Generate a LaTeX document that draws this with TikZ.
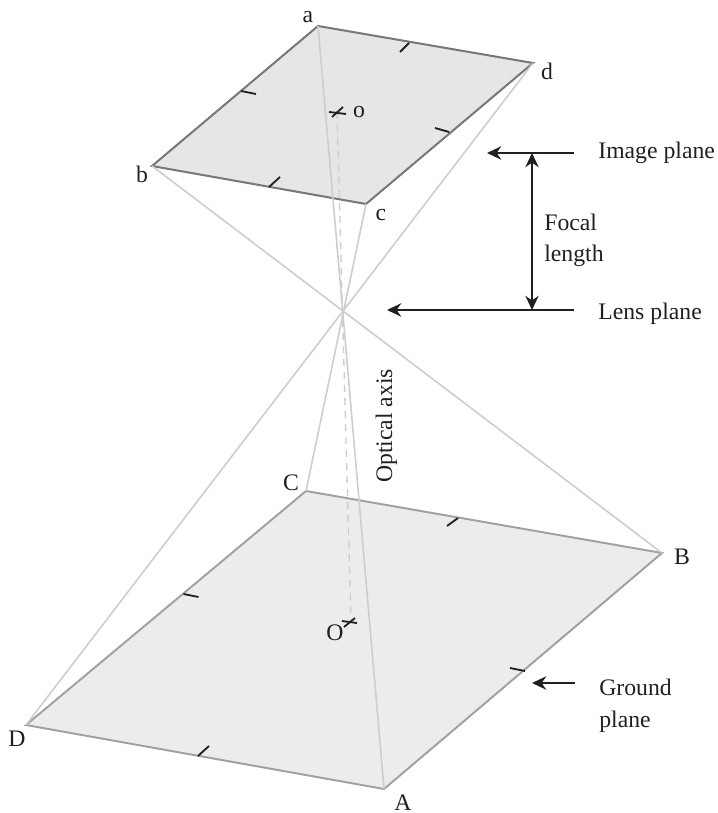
\documentclass[tikz,border=0pt]{standalone}
\usepackage{fontspec}
\setmainfont{Liberation Serif}
\usetikzlibrary{arrows.meta, positioning, calc}
\definecolor{imagefill}{RGB}{229,230,232}
\definecolor{imageedge}{RGB}{120,120,122}
\definecolor{groundfill}{RGB}{236,236,236}
\definecolor{groundedge}{RGB}{160,160,160}
\definecolor{raygray}{RGB}{205,205,205}
\definecolor{inkblack}{RGB}{35,31,32}
\tikzset{
  lbl/.style={anchor=base, inner sep=0pt, text=inkblack, font=\fontsize{13.5}{16}\selectfont},
  lblw/.style={lbl, anchor=base west},
  ray/.style={raygray, line width=0.9pt},
  axisline/.style={raygray, line width=0.75pt, dash pattern=on 4pt off 3.4pt},
  tickmark/.style={inkblack, line width=1.05pt},
  pointer/.style={inkblack, line width=1.5pt, -{Stealth[length=8pt,width=7.5pt,inset=2.5pt]}},
  dimline/.style={inkblack, line width=1.5pt, {Stealth[length=8pt,width=7.5pt,inset=2.5pt]}-{Stealth[length=8pt,width=7.5pt,inset=2.5pt]}}
}
\begin{document}
\begin{tikzpicture}[x=0.02cm, y=-0.02cm]
  \useasboundingbox (0,0) rectangle (717,813);
  % corners
  \coordinate (a) at (318,26);
  \coordinate (b) at (152,166);
  \coordinate (c) at (366,204);
  \coordinate (d) at (533,63);
  \coordinate (o) at (337,112);
  \coordinate (A) at (384,789);
  \coordinate (B) at (662,553);
  \coordinate (C) at (306,491);
  \coordinate (D) at (26,725);
  \coordinate (O) at (351,623);
  % planes
  \draw[groundedge, fill=groundfill, line width=1.1pt] (A) -- (B) -- (C) -- (D) -- cycle;
  \draw[imageedge, fill=imagefill, line width=1.15pt] (a) -- (b) -- (c) -- (d) -- cycle;
  % rays through the lens
  \draw[ray] (a) -- (A);
  \draw[ray] (b) -- (B);
  \draw[ray] (c) -- (C);
  \draw[ray] (d) -- (D);
  \draw[axisline] (o) -- (O);
  % ticks on the edges
  \draw[tickmark] (400,52) -- (409,43);
  \draw[tickmark] (241,91) -- (256,94);
  \draw[tickmark] (435,128) -- (449,132);
  \draw[tickmark] (269,187) -- (280,177);
  \draw[tickmark] (447,526) -- (458,518);
  \draw[tickmark] (183.5,594) -- (198.5,597);
  \draw[tickmark] (510,668) -- (525,671);
  \draw[tickmark] (198,756) -- (209,746);
  \draw[tickmark] (329,112) -- (346,114);
  \draw[tickmark] (332,117) -- (343,107);
  \draw[tickmark] (344,627) -- (355,618);
  \draw[tickmark] (342,621) -- (357,623);
  % corner letters
  \node[lbl] (labela) at (308,23) {a};
  \node[lbl] (labelb) at (142,183) {b};
  \node[lbl] (labelc) at (381,221) {c};
  \node[lbl] (labeld) at (547,80) {d};
  \node[lbl] (labelo) at (359,118) {o};
  \node[lbl] (labelA) at (403,810) {A};
  \node[lbl] (labelB) at (682,564) {B};
  \node[lbl] (labelC) at (291,490) {C};
  \node[lbl] (labelD) at (17,746) {D};
  \node[lbl] (labelO) at (335,640) {O};
  % callouts
  \node[lblw] (imageplane) at (598,159) {Image plane};
  \node[lblw] (lensplane) at (598,320) {Lens plane};
  \node[lblw] (focal) at (544,231) {Focal};
  \node[lblw] (length) at (544,262) {length};
  \node[lblw] (ground) at (599,695) {Ground};
  \node[lblw] (plane) at (599,727) {plane};
  \node[lbl, rotate=90, anchor=base] (axislabel) at (392,426) {Optical axis};
  \coordinate (imagestart) at (574,153);
  \coordinate (imagetip) at (487,153);
  \coordinate (lensstart) at (574,310);
  \coordinate (lenstip) at (387,310);
  \coordinate (groundstart) at (575,683);
  \coordinate (groundtip) at (532,683);
  \coordinate (focaltop) at (532,153);
  \coordinate (focalbot) at (532,310);
  \draw[pointer] (imagestart) -- (imagetip);
  \draw[pointer] (lensstart) -- (lenstip);
  \draw[pointer] (groundstart) -- (groundtip);
  \draw[dimline] (focaltop) -- (focalbot);
\end{tikzpicture}
\end{document}
